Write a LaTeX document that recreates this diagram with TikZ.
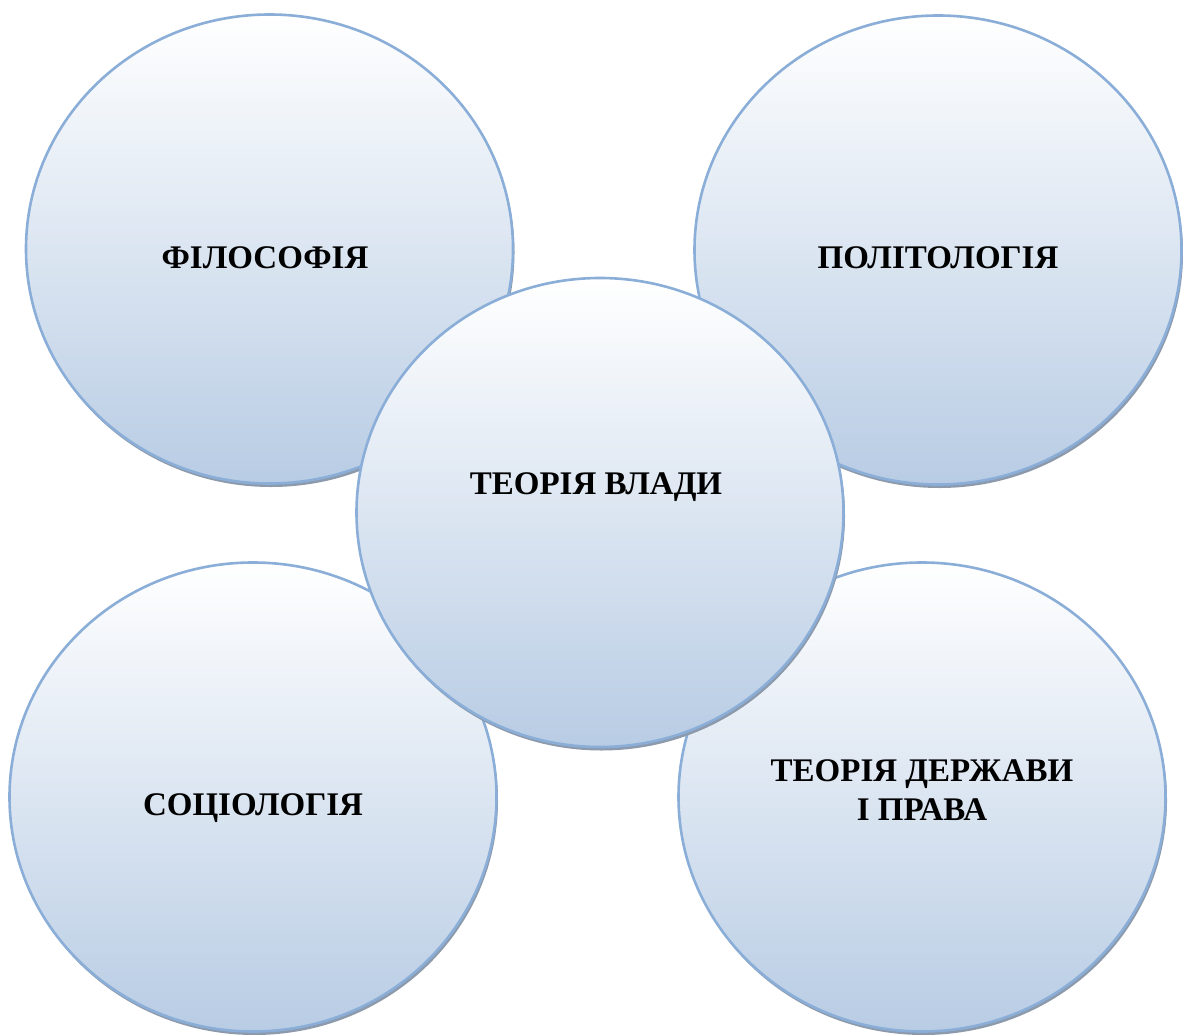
\documentclass[tikz,border=0pt]{standalone}
\usepackage{fontspec}
\setmainfont{Liberation Serif}
\usetikzlibrary{shapes.geometric,shadows}
\definecolor{cblue}{RGB}{184,204,228}
\definecolor{cedge}{RGB}{138,174,215}
\definecolor{cshadow}{RGB}{140,154,172}
\tikzset{
  bubble/.style={ellipse, inner sep=0pt, outer sep=0pt,
    minimum width=487pt, minimum height=469pt,
    draw=cedge, line width=2.6pt,
    top color=white, bottom color=cblue,
    drop shadow={shadow xshift=1.5pt, shadow yshift=-3.5pt, fill=cshadow, opacity=1}},
  bubbletext/.style={font=\fontsize{33}{39}\selectfont\bfseries, align=center, text=black}
}
\begin{document}
\begin{tikzpicture}[x=1pt,y=-1pt]
\useasboundingbox (0,0) rectangle (1183,1035);
\node[bubble] (phil) at (269.5,249) {};
\node[bubble] (pol) at (938,250) {};
\node[bubble] (soc) at (253,797) {};
\node[bubble] (state) at (922,797) {};
\node[bubble] (power) at (600,512.5) {};
\node[bubbletext] (tphil) at (265,258) {ФІЛОСОФІЯ};
\node[bubbletext] (tpol) at (938,258) {ПОЛІТОЛОГІЯ};
\node[bubbletext] (tsoc) at (253,808) {СОЦІОЛОГІЯ};
\node[bubbletext] (tstate) at (922,790) {ТЕОРІЯ ДЕРЖАВИ\\І ПРАВА};
\node[bubbletext] (tpower) at (596,487) {ТЕОРІЯ ВЛАДИ};
\end{tikzpicture}
\end{document}
